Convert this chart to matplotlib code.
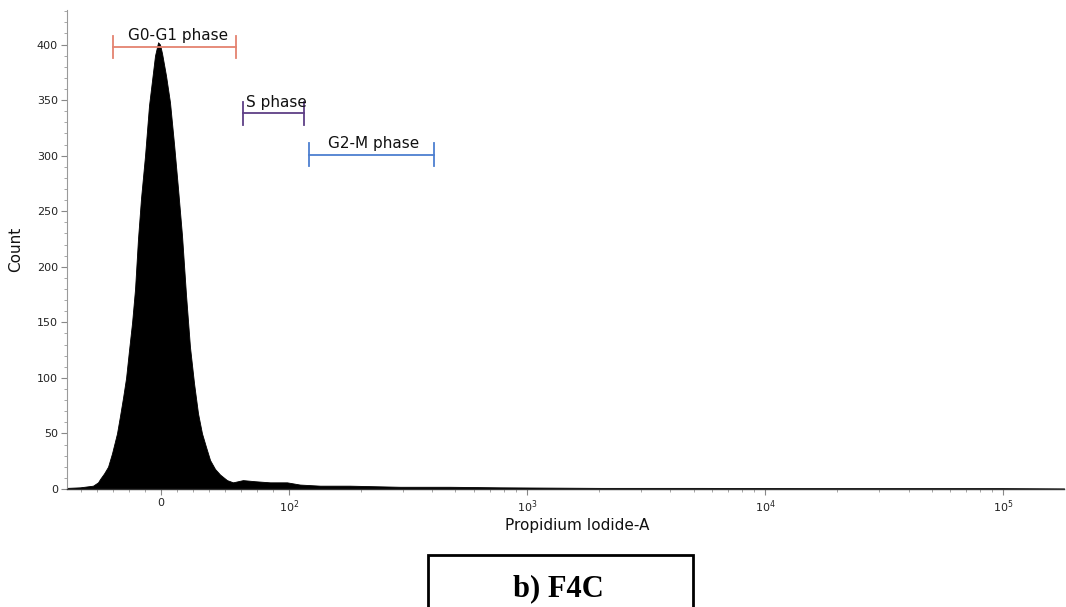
import matplotlib
matplotlib.use("Agg")
import matplotlib.pyplot as plt
from matplotlib.patches import Rectangle

# histogram (Propidium Iodide-A value, count)
pi_values = [-73.4, -63.3, -53.1, -49.2, -47.6, -44.5, -41.4, -38.3, -34.4, -32.0,
             -29.7, -27.3, -25.0, -22.6, -20.3, -18.0, -15.6, -12.5, -9.4, -7.0,
             -4.7, -2.3, -0.8, 0.8, 3.9, 7.0, 10.2, 13.3, 16.4, 19.5,
             22.6, 25.8, 28.9, 32.0, 35.1, 38.3, 42.2, 46.1, 51.5, 56.2,
             64.0, 73.4, 85.1, 98.4, 111, 135, 180, 292, 474, 769,
             2028, 5334, 14040, 36900, 97000, 180000]
counts = [1, 1.5, 3, 6, 9, 14, 20, 32, 50, 66,
          82, 100, 125, 150, 180, 225, 262, 300, 345, 368,
          390, 402, 400, 392, 372, 348, 310, 270, 228, 175,
          128, 95, 68, 50, 38, 26, 18, 13, 8, 6,
          8, 7, 6, 6, 4, 3, 3, 2, 2, 1.5,
          1, 1, 0.8, 0.8, 0.8, 0.5]

# gates
phase_names = ["G0-G1 phase", "S phase", "G2-M phase"]
phase_start = [-37.5, 63.8, 121.6]
phase_end = [58.6, 116.0, 406.0]
phase_level = [398, 338, 301]
phase_label_x = [13.3, 90.4, 226.0]
phase_colors = ["#e4826f", "#5e3f86", "#4d7fd0"]

x_ticks = [0, 100, 1000, 10000, 100000]
x_ticklabels = ["0", "$10^2$", "$10^3$", "$10^4$", "$10^5$"]
y_ticks = [0, 50, 100, 150, 200, 250, 300, 350, 400]

fig = plt.figure(figsize=(10.66, 6.07), dpi=100)
ax = fig.add_axes([0.0629, 0.1944, 0.9353, 0.789])

ax.fill_between(pi_values, counts, 0, color="black", linewidth=0.6, edgecolor="black")

ax.set_xscale("symlog", linthresh=100, linscale=0.484, base=10)
ax.set_xlim(-73.4, 1.8e5)
ax.set_ylim(0, 431)

# minor ticks: linear steps near zero, log subs above 10^2
lin_minor = [v * 12.5 for v in range(-5, 8) if v != 0]
log_minor = [m * 10 ** k for k in range(2, 6) for m in range(2, 10)]
ax.set_xticks(x_ticks)
ax.set_xticklabels(x_ticklabels)
ax.set_xticks([v for v in lin_minor + log_minor if v < 1.8e5], minor=True)
ax.set_yticks(y_ticks)
ax.set_yticks(range(10, 431, 10), minor=True)

ax.tick_params(axis="both", which="major", labelsize=8, length=4.5, width=0.8,
               colors="#888888", labelcolor="#222222", pad=2)
ax.tick_params(axis="both", which="minor", length=2.5, width=0.6, colors="#999999")

for s in ["top", "right"]:
    ax.spines[s].set_visible(False)
ax.spines["left"].set_color("#9a9a9a")
ax.spines["left"].set_linewidth(0.8)
ax.spines["bottom"].set_color("#333333")
ax.spines["bottom"].set_linewidth(1.0)

ax.set_ylabel("Count", fontsize=11, color="#111111", labelpad=10)
ax.set_xlabel("Propidium Iodide-A", fontsize=11, color="#111111")
ax.xaxis.set_label_coords(0.5115, -0.061)

for name, x0, x1, lvl, lx, col in zip(phase_names, phase_start, phase_end,
                                      phase_level, phase_label_x, phase_colors):
    ax.plot([x0, x1], [lvl, lvl], color=col, linewidth=1.3)
    ax.plot([x0, x0], [lvl - 10, lvl + 10], color=col, linewidth=1.3)
    ax.plot([x1, x1], [lvl - 10, lvl + 10], color=col, linewidth=1.3)
    ax.text(lx, lvl + 6, name, ha="center", va="baseline", fontsize=11, color="#111111")

# caption box below the plot
fig.patches.append(Rectangle((0.4015, -0.02), 0.2486, 0.1057, transform=fig.transFigure,
                             fill=False, edgecolor="black", linewidth=2))
fig.text(0.524, 0.017, "b) F4C", ha="center", va="baseline", fontsize=22,
         fontweight="bold", family="Liberation Serif")

fig.savefig("out.png", dpi=100)
